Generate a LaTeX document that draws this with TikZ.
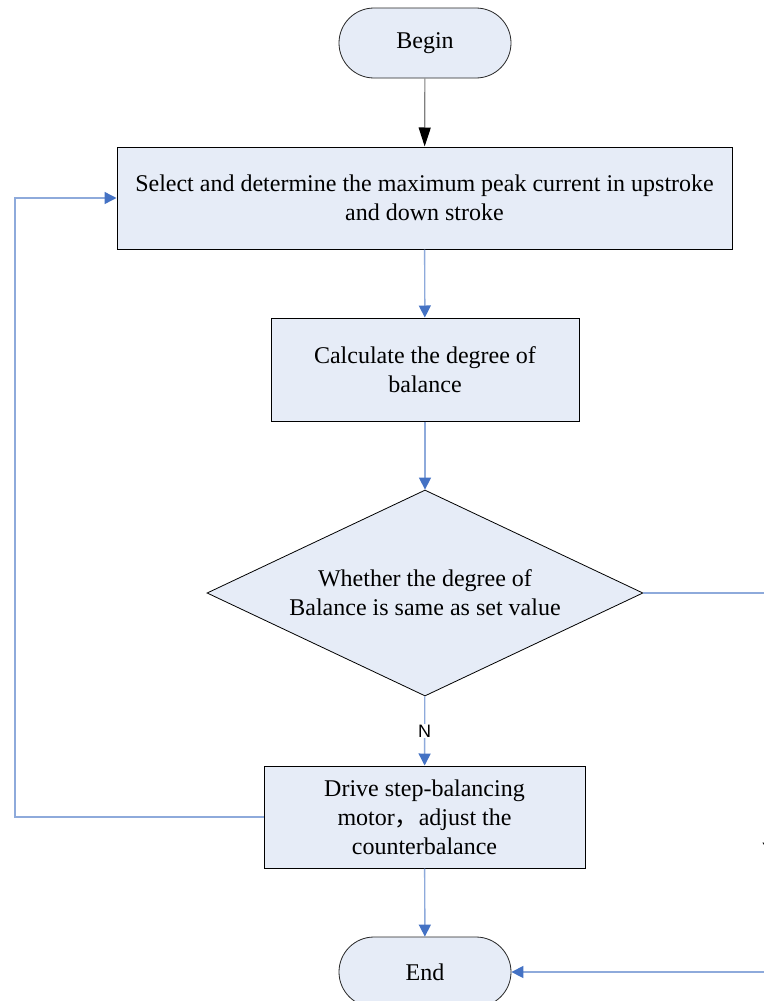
\documentclass[tikz,border=0pt]{standalone}
\usepackage{fontspec}
\setmainfont{Liberation Serif}
\newfontfamily\cjk{Noto Sans CJK SC}
\newfontfamily\arialf{Liberation Sans}
\usetikzlibrary{arrows.meta,shapes.geometric,shapes.misc}
\definecolor{boxfill}{HTML}{E6ECF7}
\definecolor{lineblue}{HTML}{8EAADB}
\definecolor{tipblue}{HTML}{4472C4}
\definecolor{grayline}{HTML}{7F7F7F}
\begin{document}
\begin{tikzpicture}[x=1pt,y=-1pt,
  every node/.style={font=\fontsize{24}{29}\selectfont},
  flowbox/.style={draw=black, line width=1pt, fill=boxfill, rectangle, inner sep=0pt, align=center},
  terminal/.style={draw=black!85, line width=0.8pt, fill=boxfill, rounded rectangle, inner sep=0pt, minimum width=172pt, minimum height=70pt},
  decision/.style={draw=black, line width=0.8pt, fill=boxfill, diamond, inner sep=0pt, align=center},
  conn/.style={draw=lineblue, line width=1.4pt, -{Triangle[length=12pt,width=12pt,color=tipblue]}},
  connplain/.style={draw=lineblue, line width=1.4pt},
  lbl/.style={font=\arialf\fontsize{18}{20}\selectfont, fill=white, inner sep=1pt}
]
\useasboundingbox (0,0) rectangle (763,1001);
\fill[white] (0,0) rectangle (763,1001);

\node[terminal] (begin) at (425,43) {Begin};
\node[flowbox, minimum width=615pt, minimum height=102pt] (select) at (424.5,198)
  {Select and determine the maximum peak current in upstroke\\and down stroke};
\node[flowbox, minimum width=308pt, minimum height=103pt] (calc) at (425,369.5)
  {Calculate the degree of\\balance};
\node[decision, minimum width=436pt, minimum height=206pt, aspect=2.117] (dec) at (425,593)
  {Whether the degree of\\Balance is same as set value};
\node[flowbox, minimum width=321pt, minimum height=102pt] (drive) at (424.5,817)
  {Drive step-balancing\\motor{\cjk ，}adjust the\\counterbalance};
\node[terminal] (end) at (425,972) {End};

\coordinate (lc1) at (15,817);
\coordinate (lc2) at (15,198);
\coordinate (rc1) at (768,593);
\coordinate (rc2) at (768,972);

\draw[draw=grayline, line width=1.2pt, -{Triangle[length=19pt,width=12pt,color=black]}] (begin) -- (select);
\draw[conn] (select) -- (calc);
\draw[conn] (calc) -- (dec);
\draw[conn] (dec) -- node[lbl, pos=0.5] (nlab) {N} (drive);
\draw[conn] (drive) -- (end);
\draw[conn] (drive.west) -- (lc1) -- (lc2) -- (select.west);
\draw[conn] (dec.east) -- (rc1) -- node[lbl, pos=0.676] (ylab) {Y} (rc2) -- (end.east);
\end{tikzpicture}
\end{document}
